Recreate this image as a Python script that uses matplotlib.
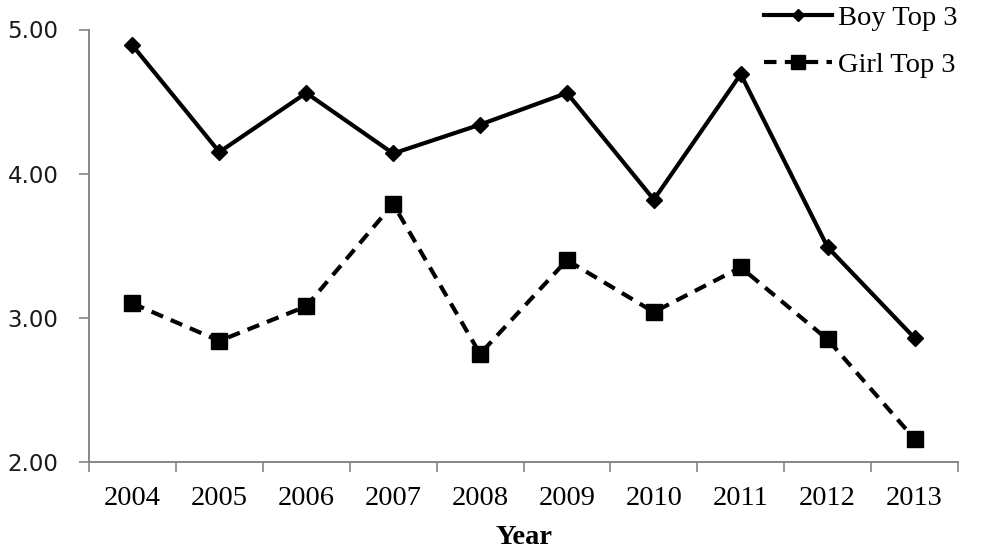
import matplotlib
matplotlib.use("Agg")
import matplotlib.pyplot as plt
import numpy as np

# data
years = ["2004", "2005", "2006", "2007", "2008", "2009", "2010", "2011", "2012", "2013"]
boy_top3 = [4.89, 4.15, 4.56, 4.14, 4.34, 4.56, 3.82, 4.69, 3.49, 2.86]
girl_top3 = [3.10, 2.84, 3.08, 3.79, 2.75, 3.40, 3.04, 3.35, 2.85, 2.16]
y_ticks = [2.0, 3.0, 4.0, 5.0]

axis_grey = "#868686"
serif = ["Liberation Serif", "DejaVu Serif"]

fig = plt.figure(figsize=(9.86, 5.57), dpi=100)
ax = fig.add_axes([89 / 986, 95 / 557, (958 - 89) / 986, (462 - 29.5) / 557])

x = np.arange(len(years))
ax.plot(x, boy_top3, color="black", lw=3.0, marker="D", markersize=8,
        label="Boy Top 3")
ax.plot(x, girl_top3, color="black", lw=3.0, ls=(0, (3, 2)), marker="s",
        markersize=12, label="Girl Top 3")

ax.set_xlim(-0.5, len(years) - 0.5)
ax.set_ylim(2.0, 5.0)
ax.set_yticks(y_ticks)
ax.set_yticklabels([f"{v:.2f}" for v in y_ticks], fontfamily="DejaVu Sans",
                   fontsize=16.5, color="#1a1a1a")

ax.set_xticks(x)
ax.set_xticklabels(years, fontfamily=serif, fontsize=20.5)
ax.set_xticks(np.arange(-0.5, len(years)), minor=True)
ax.tick_params(axis="x", which="major", length=0, pad=17)
ax.tick_params(axis="x", which="minor", length=7, width=1.2, color=axis_grey,
               direction="out")
ax.tick_params(axis="y", length=7, width=1.2, color=axis_grey, direction="out",
               pad=15)

for side in ["top", "right"]:
    ax.spines[side].set_visible(False)
for side in ["left", "bottom"]:
    ax.spines[side].set_color(axis_grey)
    ax.spines[side].set_linewidth(1.4)

ax.set_xlabel("Year", fontfamily=serif, fontsize=20.5, fontweight="bold",
              labelpad=10)

fig.legend(loc="upper left", bbox_to_anchor=(738 / 986, 1.037), frameon=False,
           prop={"family": serif, "size": 20.5}, handlelength=2.4,
           handletextpad=0.2, labelspacing=0.75, markerscale=0.8)

fig.savefig("out.png", dpi=100, facecolor="white")
